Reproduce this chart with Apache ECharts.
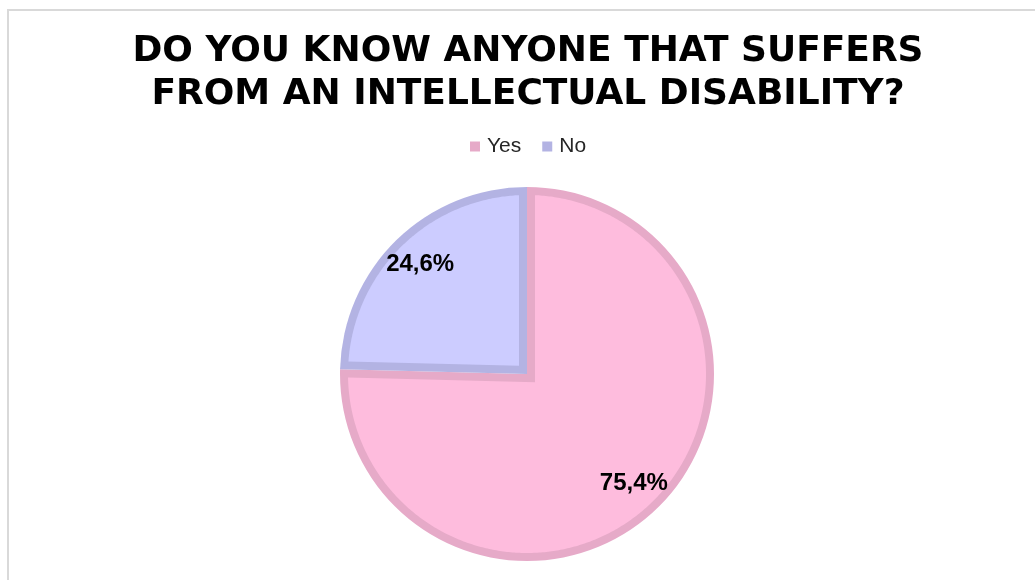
<!DOCTYPE html>
<html>
<head>
<meta charset="utf-8">
<script src="https://cdn.jsdelivr.net/npm/echarts@6/dist/echarts.min.js"></script>
<style>
  html, body { margin: 0; padding: 0; background: #ffffff; overflow: hidden; }
  #frame {
    position: absolute; left: 7px; top: 9px; width: 1200px; height: 800px;
    border: 2px solid #d9d9d9; box-sizing: border-box;
  }
  #chart { position: absolute; left: 0; top: 0; width: 1035px; height: 580px; }
</style>
</head>
<body>
<div id="frame"></div>
<div id="chart"></div>
<script>
// Survey answers (percent of respondents)
const categories = ['Yes', 'No'];
const values = [75.4, 24.6];

const fillColors = ['#FEBCDD', '#CCCCFF'];
const edgeColors = ['#E6AAC8', '#B3B3E3'];

const CX = 527, CY = 374, R = 187, EDGE = 8;

const total = values.reduce((a, b) => a + b, 0);
const fmt = v => v.toFixed(1).replace('.', ',') + '%';

// Inner (lighter) area of each slice, inset from every edge so the slice
// keeps a darker band drawn inside its own outline.
function renderInset(params, api) {
  const i = params.dataIndex;
  let before = 0;
  for (let k = 0; k < i; k++) before += values[k];
  const a0 = before / total * Math.PI * 2;
  const a1 = (before + api.value(0)) / total * Math.PI * 2;
  const theta = a1 - a0;
  const r0 = R - EDGE;
  const pt = (r, a) => [CX + r * Math.sin(a), CY - r * Math.cos(a)];
  const pts = [];
  const mid = (a0 + a1) / 2;
  pts.push(pt(EDGE / Math.sin(theta / 2), mid));
  const d = Math.asin(EDGE / r0);
  const s = a0 + d, e = a1 - d;
  const n = Math.max(8, Math.ceil((e - s) / 0.01));
  for (let k = 0; k <= n; k++) pts.push(pt(r0, s + (e - s) * k / n));
  return {
    type: 'polygon',
    shape: { points: pts },
    style: { fill: fillColors[i] }
  };
}

const chart = echarts.init(document.getElementById('chart'), null, { renderer: 'canvas' });
chart.setOption({
  backgroundColor: 'transparent',
  animation: false,
  title: {
    text: 'DO YOU KNOW ANYONE THAT SUFFERS\nFROM AN INTELLECTUAL DISABILITY?',
    left: 523,
    textAlign: 'center',
    top: 25,
    textStyle: {
      fontFamily: 'DejaVu Sans',
      fontWeight: 'bold',
      fontSize: 36,
      lineHeight: 43,
      color: '#000000'
    }
  },
  legend: {
    data: categories,
    top: 131,
    left: 465,
    icon: 'rect',
    itemWidth: 10,
    itemHeight: 10,
    itemGap: 21,
    textStyle: { fontFamily: 'Liberation Sans', fontSize: 21, color: '#262626', padding: [0, 0, 0, 2] }
  },
  series: [
    {
      // full slices in the darker edge colour
      type: 'pie',
      center: [CX, CY],
      radius: [0, R],
      startAngle: 90,
      clockwise: true,
      silent: true,
      z: 1,
      label: { show: false },
      labelLine: { show: false },
      itemStyle: { borderWidth: 0 },
      color: edgeColors,
      data: categories.map((c, i) => ({ name: c, value: values[i] }))
    },
    {
      type: 'custom',
      coordinateSystem: 'none',
      silent: true,
      z: 3,
      renderItem: renderInset,
      encode: { value: 0 },
      dimensions: ['v'],
      data: values.map(v => [v])
    },
    {
      // percentage labels placed toward the rim
      type: 'pie',
      center: [CX, CY],
      radius: [113, R],
      startAngle: 90,
      clockwise: true,
      silent: true,
      z: 5,
      itemStyle: { color: 'rgba(0,0,0,0)', borderWidth: 0 },
      label: {
        show: true,
        position: 'inside',
        formatter: p => fmt(p.value),
        fontFamily: 'Liberation Sans',
        fontWeight: 'bold',
        fontSize: 24,
        color: '#000000'
      },
      labelLine: { show: false },
      emphasis: { disabled: true },
      data: categories.map((c, i) => ({ name: c, value: values[i] }))
    }
  ]
});
</script>
</body>
</html>
